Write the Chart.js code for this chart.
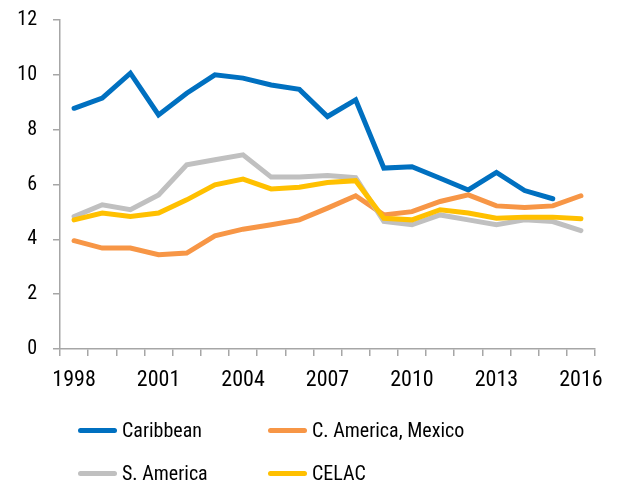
<!DOCTYPE html>
<html><head><meta charset="utf-8">
<script src="https://cdn.jsdelivr.net/npm/chart.js@4"></script>
<style>
html,body{margin:0;padding:0;background:#fff;}
#wrap{position:relative;width:621px;height:489px;}
canvas{position:absolute;left:0;top:0;}
.leg{position:absolute;font-family:"Roboto Condensed",sans-serif;font-size:20px;color:#000;display:flex;align-items:center;white-space:nowrap;}
.leg span.sw{display:inline-block;width:39px;height:5px;border-radius:3px;margin-right:5px;}
</style></head>
<body><div id="wrap"><canvas id="c" width="621" height="489"></canvas>
<div id="legend"></div></div>
<script>
const years = ['1998','1999','2000','2001','2002','2003','2004','2005','2006','2007','2008','2009','2010','2011','2012','2013','2014','2015','2016'];
const caribbean = [8.78,9.15,10.06,8.54,9.33,10.0,9.88,9.63,9.47,8.48,9.09,6.6,6.65,6.23,5.8,6.44,5.78,5.48,null];
const cAmericaMexico = [3.95,3.68,3.68,3.44,3.5,4.13,4.37,4.53,4.71,5.14,5.59,4.89,5.01,5.38,5.62,5.22,5.16,5.22,5.59];
const sAmerica = [4.83,5.26,5.08,5.62,6.72,6.9,7.08,6.27,6.27,6.33,6.25,4.65,4.53,4.89,4.71,4.53,4.71,4.65,4.32];
const celac = [4.71,4.96,4.83,4.96,5.44,5.99,6.2,5.84,5.9,6.07,6.14,4.77,4.71,5.08,4.96,4.77,4.81,4.81,4.75];
const seriesNames = ['Caribbean','C. America, Mexico','S. America','CELAC'];
const colors = ['#0070C0','#F79646','#C0C0C0','#FFC000'];
const yTicks = [0,2,4,6,8,10,12];

const FONT = '"Roboto Condensed",sans-serif';
const allData = [caribbean,cAmericaMexico,sAmerica,celac];
const orders = [3,2,1,0];
new Chart(document.getElementById('c'),{
  type:'line',
  data:{labels:years,datasets:allData.map((d,i)=>({label:seriesNames[i],data:d,borderColor:colors[i],backgroundColor:colors[i],borderWidth:5,pointRadius:0,tension:0,fill:false,order:orders[i],borderCapStyle:'round',borderJoinStyle:'miter'}))},
  options:{
    responsive:false,animation:false,
    layout:{padding:{top:20,right:26,left:0,bottom:0}},
    plugins:{legend:{display:false},tooltip:{enabled:false}},
    scales:{
      x:{type:'category',offset:true,
        grid:{offset:true,drawOnChartArea:false,drawTicks:true,tickLength:7,color:'#A6A6A6',lineWidth:1.5},
        border:{color:'#A6A6A6',width:1.5},
        ticks:{autoSkip:false,maxRotation:0,padding:11,color:'#000',font:{family:FONT,size:22},
          callback:function(v,i){return i%3===0?years[i]:'';}},
        afterFit:function(a){a.height=140;a.paddingLeft=0;a.paddingRight=0;}
      },
      y:{min:0,max:12,
        grid:{drawOnChartArea:false,drawTicks:true,tickLength:7,color:'#A6A6A6',lineWidth:1.5},
        border:{color:'#A6A6A6',width:1.5},
        afterBuildTicks:function(a){a.ticks=yTicks.map(v=>({value:v}));},
        ticks:{padding:16,color:'#000',font:{family:FONT,size:20}},
        afterFit:function(a){a.width=60;a.paddingTop=0;a.paddingBottom=0;}
      }
    }
  }
});
const legPos=[[78,430],[268,430],[78,473],[268,473]];
const L=document.getElementById('legend');
seriesNames.forEach((n,i)=>{
  const d=document.createElement('div');d.className='leg';
  d.style.left=legPos[i][0]+'px';d.style.top=(legPos[i][1]-13)+'px';d.style.height='26px';
  d.innerHTML='<span class="sw" style="background:'+colors[i]+'"></span>'+n;
  L.appendChild(d);
});
</script></body></html>
